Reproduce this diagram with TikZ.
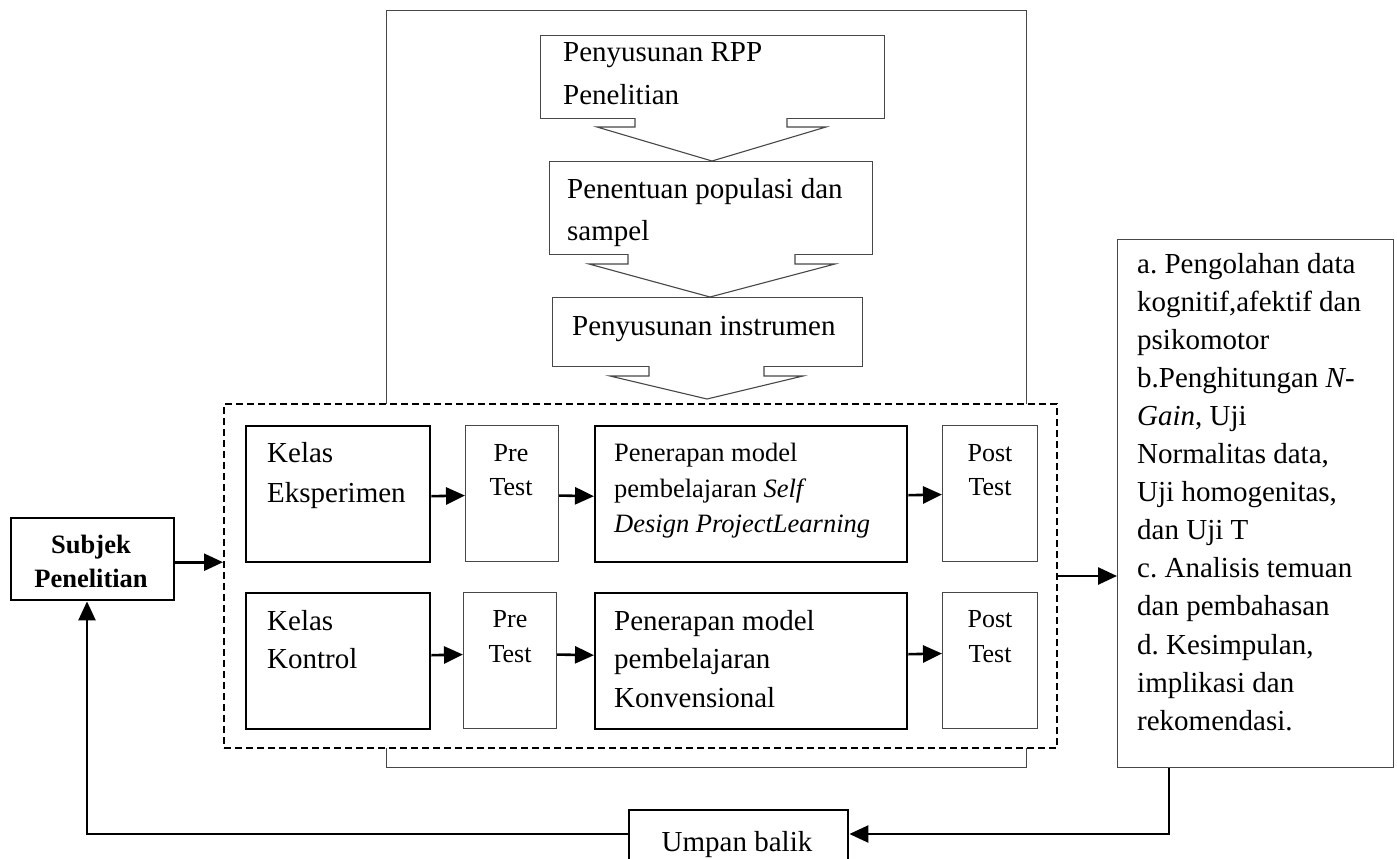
\documentclass[tikz,border=0pt]{standalone}
\usepackage{fontspec}
\setmainfont{Liberation Serif}
\usetikzlibrary{arrows.meta,calc}
\frenchspacing
\begin{document}
\begin{tikzpicture}[x=1pt,y=-1pt,
  thinbox/.style={draw=black!72, line width=1.1pt, fill=white, inner sep=0pt, anchor=north west},
  thickbox/.style={draw=black, line width=2.4pt, fill=white, inner sep=0pt, anchor=north west},
  grpbox/.style={draw=black, line width=2pt, dash pattern=on 7pt off 4pt, fill=white, inner sep=0pt, anchor=north west},
  chev/.style={draw=black!72, line width=1.1pt, fill=white},
  arr/.style={draw=black, line width=2.6pt, -{Triangle[length=19pt,width=17pt]}},
  txt/.style={anchor=base west, inner sep=0pt, font=\fontsize{29}{35}\selectfont},
  ctxt/.style={anchor=base, inner sep=0pt, font=\fontsize{26}{32}\selectfont},
  stxt/.style={anchor=base west, inner sep=0pt, font=\fontsize{26.5}{32}\selectfont},
  btxt/.style={anchor=base, inner sep=0pt, font=\fontsize{26.5}{32}\selectfont\bfseries}]
\useasboundingbox (0,0) rectangle (1397,859);

% outer frame and dashed group
\node[thinbox, minimum width=640pt, minimum height=757pt] (outer) at (386,10) {};
\node[grpbox, minimum width=833pt, minimum height=344pt] (grp) at (223,403) {};

% top preparation boxes
\node[thinbox, minimum width=344pt, minimum height=83pt] (b1) at (540,35) {};
\node[thinbox, minimum width=323pt, minimum height=93pt] (b2) at (549,161) {};
\node[thinbox, minimum width=310pt, minimum height=69pt] (b3) at (552,297) {};

% hollow block arrows
\draw[chev] (635,118) -- (635,127) -- (597,127) -- (712,161) -- (826,127) -- (787,127) -- (787,118);
\draw[chev] (628,254) -- (628,264) -- (589,264) -- (710,297) -- (835,264) -- (795,264) -- (795,254);
\draw[chev] (649,366) -- (649,376) -- (610,376) -- (707,399) -- (803,376) -- (764,376) -- (764,366);

% class rows
\node[thickbox, minimum width=184pt, minimum height=136pt] (k1) at (245,425) {};
\node[thinbox,  minimum width=93pt,  minimum height=136pt] (p1) at (465,425) {};
\node[thickbox, minimum width=312pt, minimum height=136pt] (m1) at (594,425) {};
\node[thinbox,  minimum width=95pt,  minimum height=136pt] (q1) at (942,425) {};
\node[thickbox, minimum width=184pt, minimum height=136pt] (k2) at (245,592) {};
\node[thinbox,  minimum width=93pt,  minimum height=136pt] (p2) at (463,592) {};
\node[thickbox, minimum width=312pt, minimum height=136pt] (m2) at (594,592) {};
\node[thinbox,  minimum width=95pt,  minimum height=136pt] (q2) at (942,592) {};

% side boxes
\node[thickbox, minimum width=163pt, minimum height=82pt] (subj) at (10,517) {};
\node[thinbox,  minimum width=276pt, minimum height=528pt] (res) at (1117,239) {};
\node[thickbox, minimum width=219pt, minimum height=70pt] (umpan) at (628,809) {};

% arrows in rows
\draw[arr] ([yshift=-2pt]k1.east) -- ([yshift=-2pt]p1.west);
\draw[arr] ([yshift=-2pt]p1.east) -- ([yshift=-2pt]m1.west);
\draw[arr] ([yshift=-1pt]m1.east) -- ([yshift=-1pt]q1.west);
\draw[arr] ([yshift=6pt]k2.east) -- ([yshift=6pt]p2.west);
\draw[arr] ([yshift=6pt]p2.east) -- ([yshift=6pt]m2.west);
\draw[arr] ([yshift=7pt]m2.east) -- ([yshift=7pt]q2.west);

% side arrows
\draw[arr] ([yshift=-3pt]subj.east) -- ([yshift=-3pt]subj.east -| grp.west);
\draw[arr] (grp.east) -- (grp.east -| res.west);
\coordinate (c1) at (1169,834);
\coordinate (c2) at (87,834);
\draw[arr, line width=2.4pt] (res.south -| c1) -- (c1) -- (c1 -| umpan.east);
\draw[arr, line width=2.4pt] (c2 -| umpan.west) -- (c2) -- (c2 |- subj.south);

% texts
\node[txt] (t1a) at (563,62) {Penyusunan RPP};
\node[txt] (t1b) at (563,104) {Penelitian};
\node[txt] (t2a) at (567,198) {Penentuan populasi dan};
\node[txt] (t2b) at (567,240) {sampel};
\node[txt] (t3a) at (572,335) {Penyusunan instrumen};

\node[txt] (tk1a) at (267,462) {Kelas};
\node[txt] (tk1b) at (267,502) {Eksperimen};
\node[ctxt] (tp1a) at (511,461) {Pre};
\node[ctxt] (tp1b) at (511,495) {Test};
\node[stxt] (tm1a) at (614,461) {Penerapan model};
\node[stxt] (tm1b) at (614,497) {pembelajaran \textit{Self}};
\node[stxt] (tm1c) at (614,532) {\textit{Design ProjectLearning}};
\node[ctxt] (tq1a) at (990,461) {Post};
\node[ctxt] (tq1b) at (990,495) {Test};

\node[txt] (tk2a) at (267,630) {Kelas};
\node[txt] (tk2b) at (267,668) {Kontrol};
\node[ctxt] (tp2a) at (510,627) {Pre};
\node[ctxt] (tp2b) at (510,662) {Test};
\node[txt] (tm2a) at (614,630) {Penerapan model};
\node[txt] (tm2b) at (614,668) {pembelajaran};
\node[txt] (tm2c) at (614,707) {Konvensional};
\node[ctxt] (tq2a) at (990,627) {Post};
\node[ctxt] (tq2b) at (990,662) {Test};

\node[btxt] (ts1) at (91,553) {Subjek};
\node[btxt] (ts2) at (91,587) {Penelitian};

\foreach \t [count=\i from 0] in {a. Pengolahan data, {kognitif,afektif dan}, psikomotor, b.Penghitungan \textit{N-}, {\textit{Gain}, Uji}, {Normalitas data,}, {Uji homogenitas,}, dan Uji T, c. Analisis temuan, dan pembahasan, {d. Kesimpulan,}, implikasi dan, rekomendasi.}
  \node[txt] (tr\i) at (1137,273+38.1*\i) {\t};

\node[txt, anchor=base] (tu) at (737,851) {Umpan balik};
\end{tikzpicture}
\end{document}
